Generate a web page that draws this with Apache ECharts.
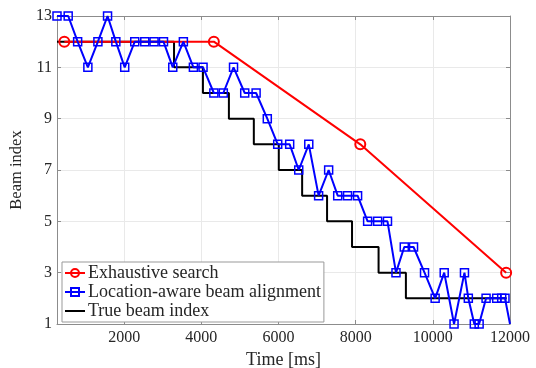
<!DOCTYPE html>
<html>
<head>
<meta charset="utf-8">
<script src="https://cdn.jsdelivr.net/npm/echarts@6/dist/echarts.min.js"></script>
<style>
  html, body { margin: 0; padding: 0; background: #fff; }
  #chart { width: 536px; height: 368px; }
</style>
</head>
<body>
<div id="chart"></div>
<script>
var chartDom = document.getElementById('chart');
var myChart = echarts.init(chartDom);

// time in ms, beam index
var exhaustive = [[450, 12], [4325, 12], [8120, 8], [11900, 3]];

var locationAware = [
  [260, 13], [550, 13], [795, 12], [1060, 11], [1320, 12], [1570, 13],
  [1785, 12], [2015, 11], [2275, 12], [2535, 12], [2775, 12], [3020, 12],
  [3260, 11], [3535, 12], [3795, 11], [4045, 11], [4325, 10], [4570, 10],
  [4835, 11], [5125, 10], [5420, 10], [5710, 9], [5980, 8], [6290, 8],
  [6525, 7], [6785, 8], [7040, 6], [7300, 7], [7535, 6], [7790, 6],
  [8050, 6], [8310, 5], [8570, 5], [8825, 5], [9045, 3], [9260, 4],
  [9500, 4], [9785, 3], [10060, 2], [10295, 3], [10550, 1], [10820, 3],
  [10920, 2], [11075, 1], [11200, 1], [11380, 2], [11655, 2], [11785, 2],
  [11870, 2], [12000, 1]
];

var trueBeam = [
  [260, 12], [3293, 11], [4042, 10], [4715, 9], [5361, 8], [6008, 7],
  [6613, 6], [7259, 5], [7906, 4], [8594, 3], [9302, 2], [11914, 2]
];

var xTicks = [2000, 4000, 6000, 8000, 10000, 12000];

var serif = 'Liberation Serif';
var axisGray = '#8c8c8c';
var textColor = '#262626';

// last blue point sits on the border without a marker
var blueData = locationAware.map(function (p, i) {
  if (i === locationAware.length - 1) {
    return { value: p, symbol: 'none' };
  }
  return p;
});

var option = {
  animation: false,
  backgroundColor: '#fff',
  grid: { left: 57, right: 26, top: 16, bottom: 44, outerBoundsMode: 'none' },
  legend: {
    orient: 'vertical',
    left: 62,
    top: 262,
    itemWidth: 20,
    itemHeight: 10,
    itemGap: 1,
    padding: [2, 3, 2, 2],
    backgroundColor: '#fff',
    borderColor: '#999',
    borderWidth: 1,
    borderRadius: 0,
    textStyle: { fontFamily: serif, fontSize: 18, color: textColor, padding: [0, 0, 0, -2], lineHeight: 18 },
    data: [
      'Exhaustive search',
      'Location-aware beam alignment',
      { name: 'True beam index', itemStyle: { opacity: 0 } }
    ]
  },
  xAxis: [
    {
      type: 'value',
      min: 260,
      max: 12000,
      name: 'Time [ms]',
      nameLocation: 'middle',
      nameGap: 20,
      nameTextStyle: { fontFamily: serif, fontSize: 18, color: textColor },
      axisLine: { lineStyle: { color: axisGray } },
      axisTick: { inside: true, length: 4, customValues: xTicks, lineStyle: { color: axisGray } },
      axisLabel: {
        customValues: xTicks,
        fontFamily: serif, fontSize: 16, color: textColor, margin: 6,
        formatter: function (v) { return String(v); }
      },
      splitLine: { show: true, lineStyle: { color: '#e9e9e9' } }
    },
    {
      type: 'value',
      position: 'top',
      min: 260,
      max: 12000,
      axisLine: { lineStyle: { color: axisGray } },
      axisTick: { inside: true, length: 4, customValues: xTicks, lineStyle: { color: axisGray } },
      axisLabel: { show: false },
      splitLine: { show: false }
    }
  ],
  yAxis: [
    {
      type: 'value',
      min: 1,
      max: 13,
      interval: 2,
      name: 'Beam index',
      nameLocation: 'middle',
      nameGap: 27,
      nameTextStyle: { fontFamily: serif, fontSize: 16.5, color: textColor },
      axisLine: { show: true, lineStyle: { color: axisGray } },
      axisTick: { show: true, inside: true, length: 4, lineStyle: { color: axisGray } },
      axisLabel: { fontFamily: serif, fontSize: 16, color: textColor, margin: 5 },
      splitLine: { show: true, lineStyle: { color: '#e9e9e9' } }
    },
    {
      type: 'value',
      position: 'right',
      min: 1,
      max: 13,
      interval: 2,
      axisLine: { show: true, lineStyle: { color: axisGray } },
      axisTick: { show: true, inside: true, length: 4, lineStyle: { color: axisGray } },
      axisLabel: { show: false },
      splitLine: { show: false }
    }
  ],
  series: [
    {
      name: 'Exhaustive search',
      type: 'line',
      data: exhaustive,
      symbol: 'circle',
      symbolSize: 10,
      lineStyle: { color: '#ff0000', width: 2 },
      itemStyle: { color: 'rgba(255,255,255,0)', borderColor: '#ff0000', borderWidth: 2 },
      z: 3
    },
    {
      name: 'Location-aware beam alignment',
      type: 'line',
      data: blueData,
      symbol: 'rect',
      symbolSize: 8,
      lineStyle: { color: '#0000ff', width: 2 },
      itemStyle: { color: 'rgba(255,255,255,0)', borderColor: '#0000ff', borderWidth: 1.5 },
      z: 4
    },
    {
      name: 'True beam index',
      type: 'line',
      step: 'end',
      data: trueBeam,
      symbol: 'none',
      lineStyle: { color: '#000', width: 2 },
      itemStyle: { color: '#000' },
      z: 2
    }
  ]
};

myChart.setOption(option);
</script>
</body>
</html>
